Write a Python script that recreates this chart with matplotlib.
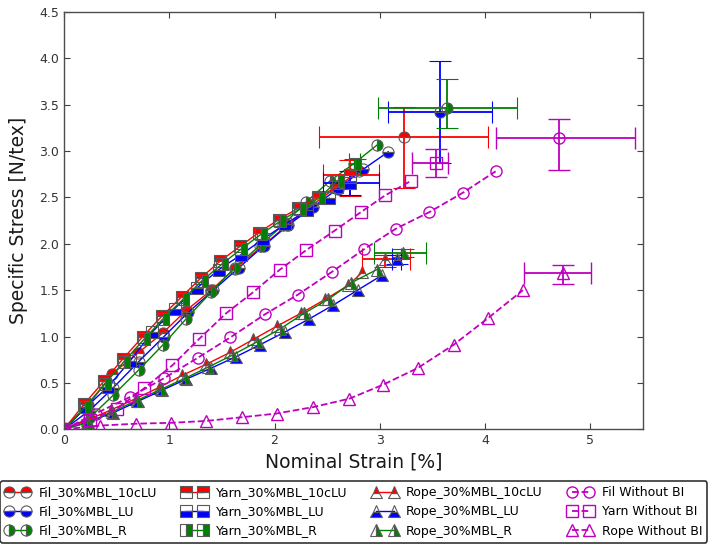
import matplotlib
matplotlib.use("Agg")
import matplotlib.pyplot as plt
import numpy as np

# ---------------- data ----------------
fil10_x = [0, 0.23, 0.46, 0.70, 0.94, 1.16, 1.40, 1.62, 1.88, 2.12, 2.35, 2.58, 2.80]
fil10_y = [0, 0.26, 0.60, 0.82, 1.04, 1.28, 1.50, 1.73, 1.97, 2.20, 2.41, 2.60, 2.78]
filLU_x = [0, 0.24, 0.47, 0.71, 0.95, 1.18, 1.42, 1.66, 1.90, 2.13, 2.37, 2.60, 2.84, 3.08]
filLU_y = [0, 0.20, 0.45, 0.73, 1.00, 1.26, 1.50, 1.74, 1.98, 2.20, 2.40, 2.59, 2.80, 2.99]
filR_x = [0, 0.24, 0.47, 0.71, 0.94, 1.16, 1.40, 1.62, 1.86, 2.08, 2.30, 2.53, 2.75, 2.97]
filR_y = [0, 0.12, 0.37, 0.64, 0.91, 1.19, 1.48, 1.74, 1.98, 2.20, 2.45, 2.68, 2.86, 3.06]

yarn10_x = [0, 0.19, 0.38, 0.56, 0.75, 0.93, 1.12, 1.30, 1.48, 1.67, 1.85, 2.04, 2.22, 2.41, 2.59]
yarn10_y = [0, 0.27, 0.52, 0.76, 1.00, 1.22, 1.43, 1.63, 1.81, 1.97, 2.12, 2.26, 2.38, 2.50, 2.61]
yarnLU_x = [0, 0.21, 0.42, 0.63, 0.84, 1.05, 1.26, 1.47, 1.68, 1.89, 2.10, 2.31, 2.52]
yarnLU_y = [0, 0.24, 0.46, 0.74, 1.05, 1.30, 1.52, 1.72, 1.88, 2.05, 2.21, 2.36, 2.49]
yarnR_x = [0, 0.20, 0.39, 0.57, 0.76, 0.94, 1.13, 1.31, 1.50, 1.68, 1.87, 2.05, 2.24, 2.42, 2.60]
yarnR_y = [0, 0.24, 0.49, 0.73, 0.97, 1.19, 1.40, 1.60, 1.78, 1.94, 2.10, 2.24, 2.37, 2.49, 2.68]

rope10_x = [0, 0.22, 0.45, 0.68, 0.90, 1.12, 1.35, 1.58, 1.80, 2.02, 2.25, 2.48, 2.70, 2.83]
rope10_y = [0, 0.10, 0.21, 0.33, 0.45, 0.58, 0.70, 0.83, 0.97, 1.11, 1.25, 1.40, 1.55, 1.69]
ropeLU_x = [0, 0.23, 0.47, 0.70, 0.93, 1.16, 1.40, 1.63, 1.86, 2.10, 2.33, 2.56, 2.79, 3.02]
ropeLU_y = [0, 0.08, 0.18, 0.30, 0.42, 0.54, 0.66, 0.78, 0.91, 1.05, 1.19, 1.34, 1.50, 1.66]
ropeR_x = [0, 0.22, 0.46, 0.69, 0.92, 1.15, 1.37, 1.60, 1.83, 2.05, 2.28, 2.51, 2.73, 2.97]
ropeR_y = [0, 0.07, 0.19, 0.31, 0.43, 0.55, 0.67, 0.80, 0.94, 1.08, 1.25, 1.40, 1.58, 1.72]

filwo_x = [0, 0.30, 0.63, 0.95, 1.27, 1.58, 1.91, 2.22, 2.55, 2.85, 3.15, 3.47, 3.79, 4.10]
filwo_y = [0, 0.17, 0.35, 0.55, 0.77, 0.99, 1.24, 1.45, 1.70, 1.94, 2.16, 2.34, 2.55, 2.78]
yarnwo_x = [0, 0.25, 0.50, 0.76, 1.03, 1.28, 1.54, 1.80, 2.05, 2.30, 2.57, 2.82, 3.05, 3.30]
yarnwo_y = [0, 0.10, 0.22, 0.44, 0.69, 0.97, 1.25, 1.48, 1.72, 1.93, 2.14, 2.34, 2.52, 2.68]
ropewo_x = [0, 0.34, 0.68, 1.02, 1.35, 1.69, 2.02, 2.37, 2.71, 3.03, 3.36, 3.70, 4.03, 4.36]
ropewo_y = [0, 0.04, 0.06, 0.07, 0.09, 0.13, 0.17, 0.24, 0.33, 0.48, 0.66, 0.91, 1.20, 1.50]

# failure points: x, y, xerr(lo, hi), yerr(lo, hi)
fail_fil10 = (3.23, 3.15, (0.81, 0.80), (0.55, 0.32))
fail_filLU = (3.57, 3.42, (0.49, 0.50), (0.55, 0.55))
fail_filR = (3.64, 3.46, (0.66, 0.66), (0.21, 0.32))
fail_yarn10 = (2.72, 2.74, (0.26, 0.27), (0.23, 0.16))
fail_yarnLU = (2.72, 2.65, (0.26, 0.27), (0.13, 0.13))
fail_yarnR = (2.76, 2.86, (0.05, 0.05), (0.05, 0.05))
fail_rope10 = (3.05, 1.83, (0.22, 0.24), (0.08, 0.05))
fail_ropeLU = (3.16, 1.83, (0.04, 0.04), (0.05, 0.05))
fail_ropeR = (3.22, 1.90, (0.28, 0.22), (0.04, 0.04))
fail_filwo = (4.70, 3.14, (0.60, 0.72), (0.35, 0.20))
fail_yarnwo = (3.53, 2.87, (0.22, 0.12), (0.15, 0.15))
fail_ropewo = (4.74, 1.68, (0.37, 0.27), (0.11, 0.09))

labels = ["Fil_30%MBL_10cLU", "Fil_30%MBL_LU", "Fil_30%MBL_R",
          "Yarn_30%MBL_10cLU", "Yarn_30%MBL_LU", "Yarn_30%MBL_R",
          "Rope_30%MBL_10cLU", "Rope_30%MBL_LU", "Rope_30%MBL_R",
          "Fil Without BI", "Yarn Without BI", "Rope Without BI"]

RED = (1, 0, 0)
BLUE = (0, 0, 1)
GREEN = (0, 0.5, 0)
MAG = (0.75, 0, 0.75)

series = [
    (fil10_x, fil10_y, fail_fil10, 'o', RED, 'top', '-'),
    (filLU_x, filLU_y, fail_filLU, 'o', BLUE, 'bottom', '-'),
    (filR_x, filR_y, fail_filR, 'o', GREEN, 'right', '-'),
    (yarn10_x, yarn10_y, fail_yarn10, 's', RED, 'top', '-'),
    (yarnLU_x, yarnLU_y, fail_yarnLU, 's', BLUE, 'bottom', '-'),
    (yarnR_x, yarnR_y, fail_yarnR, 's', GREEN, 'right', '-'),
    (rope10_x, rope10_y, fail_rope10, '^', RED, 'top', '-'),
    (ropeLU_x, ropeLU_y, fail_ropeLU, '^', BLUE, 'bottom', '-'),
    (ropeR_x, ropeR_y, fail_ropeR, '^', GREEN, 'right', '-'),
    (filwo_x, filwo_y, fail_filwo, 'o', MAG, 'none', '--'),
    (yarnwo_x, yarnwo_y, fail_yarnwo, 's', MAG, 'none', '--'),
    (ropewo_x, ropewo_y, fail_ropewo, '^', MAG, 'none', '--'),
]

plt.rcParams['font.family'] = ['DejaVu Sans']
fig = plt.figure(figsize=(7.23, 5.44), dpi=100, facecolor='white')
ax = fig.add_axes([64 / 723, 1 - 429.3 / 544, (643 - 64) / 723, (429.3 - 11.7) / 544])

handles = []
for (xs, ys, fail, mk, col, fs, ls), lab in zip(series, labels):
    if fs == 'none':
        kw = dict(marker=mk, mfc='none', mec=col, ms=8, mew=1.0)
        lw = 1.3
    else:
        kw = dict(marker=mk, fillstyle=fs, mfc=col, mfcalt='none', mec='0.35', ms=8, mew=0.8)
        lw = 1.0
    h, = ax.plot(xs, ys, linestyle=ls, color=col, lw=lw, label=lab, **kw)
    handles.append(h)
    fx, fy, xe, ye = fail
    ax.errorbar([fx], [fy], xerr=[[xe[0]], [xe[1]]], yerr=[[ye[0]], [ye[1]]],
                linestyle='none', ecolor=col, elinewidth=1.3, capsize=8, capthick=1.3,
                **kw)

ax.set_xlim(0, 5.5)
ax.set_ylim(0, 4.5)
ax.set_xticks([0, 1, 2, 3, 4, 5])
ax.set_yticks(np.arange(0, 4.51, 0.5))
ax.set_yticklabels(["%.1f" % v for v in np.arange(0, 4.51, 0.5)])
ax.tick_params(direction='in', top=True, right=True, labelsize=9, length=4,
               colors='0.25', labelcolor='0.2')
for sp in ax.spines.values():
    sp.set_color('0.3')
    sp.set_linewidth(1.0)
ax.set_xlabel("Nominal Strain [%]", fontsize=13.5, color='0.1', labelpad=4)
ax.set_ylabel("Specific Stress [N/tex]", fontsize=13.5, color='0.1', labelpad=8)

leg = ax.legend(handles=handles, ncol=4, numpoints=2, fontsize=9,
                loc='upper right', bbox_to_anchor=(707 / 723, 1 - 481 / 544),
                bbox_transform=fig.transFigure, borderaxespad=0,
                fancybox=True, framealpha=1,
                edgecolor='0.2', handlelength=2.0, handletextpad=0.7,
                columnspacing=2.0, labelspacing=0.5, borderpad=0.4)
leg.get_frame().set_linewidth(1.2)

fig.savefig("out.png", dpi=100, facecolor='white')
